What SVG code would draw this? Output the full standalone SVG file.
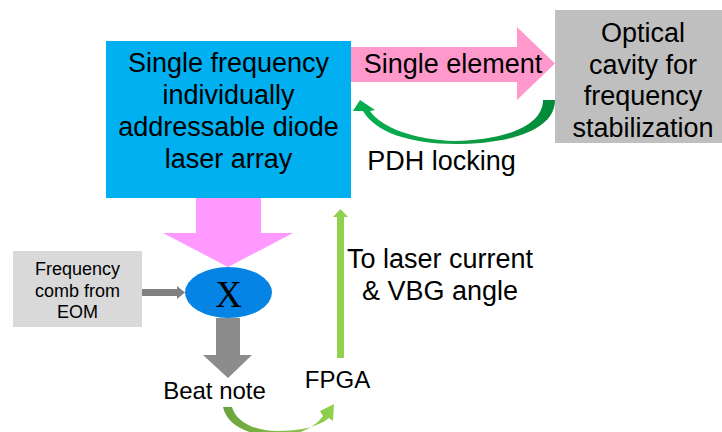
<svg xmlns="http://www.w3.org/2000/svg" width="722" height="432" viewBox="0 0 722 432">
<style>
text{font-family:"Liberation Sans",Arial,sans-serif;fill:#000;text-anchor:middle}
.t26{font-size:27px}
.t24{font-size:24px}
.t18{font-size:18px}
</style>
<defs>
<linearGradient id="gPDH" x1="0" y1="0" x2="1" y2="0">
<stop offset="0" stop-color="#00b050"/>
<stop offset="0.5" stop-color="#10a048"/>
<stop offset="1" stop-color="#008a38"/>
</linearGradient>
<linearGradient id="gBeat" x1="0" y1="0" x2="1" y2="0">
<stop offset="0" stop-color="#6aa43c"/>
<stop offset="1" stop-color="#92d050"/>
</linearGradient>
</defs>
<rect width="722" height="432" fill="#fff"/>

<g id="connectors">
<path id="arrow-single-element" d="M351,47 H517 V27 L555,63.5 L517,100 V82 H351 Z" fill="#ff99cc"/>
<path id="arrow-pdh" d="M555,100 C555,132 505,144 455,144 C410,144 375,132 363,111 L353,111 L360,100 L375,110 L370,111 C382,128 415,140 455,141 C500,140 543,128 543,100 Z" fill="url(#gPDH)"/>
<path id="arrow-down-pink" d="M196,198 H261 V233 H293 L228,267 L163,233 H196 Z" fill="#ff99ff"/>
<path id="arrow-comb" d="M142,289 H177 V286 L185,292.5 L177,299 V296 H142 Z" fill="#808080"/>
<path id="arrow-beat" d="M216,318 H240 V355 H252 L228,378 L203,355 H216 Z" fill="#8c8c8c"/>
<path id="arrow-fpga-loop" d="M223,407 C227,426 250,436 276,436 C298,436 314,428 323,416 L320,411 L334,404 L333,421 L329,418 C318,427 300,431 277,431 C255,431 236,422 232,407 Z" fill="url(#gBeat)"/>
<path id="arrow-feedback" d="M337,358 V217 H333 L340.5,209 L348,217 H344 V358 Z" fill="#92d050"/>
</g>

<g id="laser-array">
<rect x="106" y="41" width="245" height="157" fill="#00b0f0"/>
<text class="t26" x="228.5" y="72">Single frequency</text>
<text class="t26" x="228.5" y="104">individually</text>
<text class="t26" x="228.5" y="136">addressable diode</text>
<text class="t26" x="228.5" y="168">laser array</text>
</g>

<g id="optical-cavity">
<rect x="555" y="10" width="167" height="133" fill="#bfbfbf"/>
<text class="t26" x="643" y="42">Optical</text>
<text class="t26" x="643" y="73.5">cavity for</text>
<text class="t26" x="643" y="105">frequency</text>
<text class="t26" x="643" y="136.5">stabilization</text>
</g>

<g id="label-single-element">
<text class="t26" x="453" y="73">Single element</text>
</g>
<g id="label-pdh">
<text class="t26" x="441.5" y="170">PDH locking</text>
</g>

<g id="comb">
<rect x="13" y="251" width="129" height="76" fill="#d9d9d9"/>
<text class="t18" x="77.5" y="275">Frequency</text>
<text class="t18" x="77.5" y="296.5">comb from</text>
<text class="t18" x="77.5" y="318">EOM</text>
</g>

<g id="mixer">
<ellipse cx="228.5" cy="292.5" rx="43.5" ry="25.5" fill="#0584e6"/>
<text x="228.5" y="306.5" style="font-family:'Liberation Serif','Times New Roman',serif;font-size:37px">X</text>
</g>

<g id="beat-note">
<text class="t24" x="214.5" y="399">Beat note</text>
</g>
<g id="fpga">
<text class="t24" x="337.5" y="388">FPGA</text>
</g>
<g id="label-feedback">
<text class="t26" x="440" y="268">To laser current</text>
<text class="t26" x="440" y="300">&amp; VBG angle</text>
</g>
</svg>
